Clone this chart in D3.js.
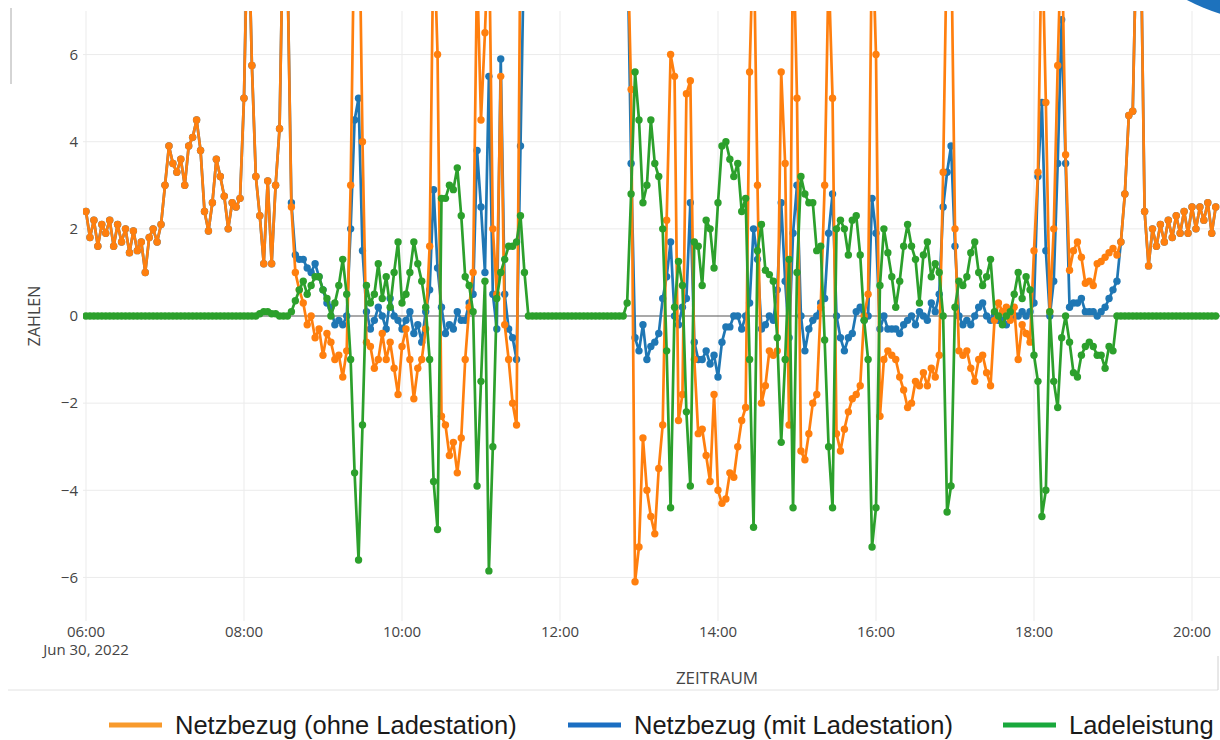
<!DOCTYPE html>
<html lang="de">
<head>
  <meta charset="UTF-8">
  <title>Netzbezug</title>
  <style>
    body { margin: 0; background: #fff; }
    svg { display: block; }
  </style>
</head>
<body>
  <svg id="chart"></svg>
<script src="https://cdn.jsdelivr.net/npm/d3@7"></script>
<script>
const width = 1220;
const height = 740;

// Messwerte alle 3 Minuten ab 06:00
const startTime = '2022-06-30 06:00';
const stepMinutes = 3;

const netzbezugOhne = [
  2.4,1.8,2.2,1.6,2.1,1.9,2.2,1.6,2.1,1.7,
  2.0,1.45,1.95,1.5,1.7,1.0,1.8,2.0,1.7,2.1,
  3.0,3.9,3.5,3.3,3.6,3.0,3.9,4.1,4.5,3.8,
  2.4,1.95,2.6,3.6,3.2,2.75,2.0,2.6,2.5,2.7,
  5.0,9.5,5.75,3.2,2.3,1.2,3.1,1.2,3.0,4.3,
  9.5,8.0,2.5,1.0,0.6,0.3,-0.2,0.0,-0.5,-0.3,
  -0.9,-0.4,-0.6,-1.0,-0.9,-1.4,-0.8,3.0,9.5,10.5,
  4.0,-0.6,-0.7,-1.2,-1.0,-0.4,-1.0,-0.6,-1.2,-1.8,
  -0.7,-0.3,-1.0,-1.9,-1.2,-1.0,-0.3,1.6,9.0,6.0,
  -2.3,-2.5,-3.2,-2.9,-3.6,-2.8,-1.0,0.2,1.0,8.0,
  4.5,6.5,9.0,2.0,0.5,5.5,-0.2,-1.0,-2.0,-2.5,
  9,9,9,9,9,9,9,9,9,9,
  9,9,9,9,9,9,9,9,9,9,
  9,9,9,9,9,9,9,9,5.2,-6.1,
  -5.3,-2.8,-4.0,-4.6,-5.0,-3.5,-2.5,2.2,6.0,5.5,
  -2.4,-1.8,5.1,5.4,-1.0,-2.7,-2.6,-3.2,-3.8,-1.8,
  -4.0,-4.3,-4.2,-3.6,-3.7,-3.0,-2.4,-2.1,5.6,9.0,
  3.0,-2.0,-1.6,-0.8,-0.9,-0.8,5.6,3.5,-2.5,9.0,
  5.0,-3.1,-3.3,-2.7,-2.0,-1.8,0.2,3.0,8.0,5.0,
  -2.7,-3.1,-2.6,-2.2,-1.9,-1.8,-1.6,0.0,0.5,9.0,
  6.0,-2.3,-1.0,-0.8,-0.9,-1.0,-1.4,-1.7,-2.1,-2.0,
  -1.5,-1.6,-1.3,-1.6,-1.2,-1.4,-0.9,3.3,9.0,9.0,
  2.0,-0.8,-0.9,-0.8,-1.2,-1.5,-1.0,-0.9,-1.3,-1.6,
  -0.1,0.3,0.1,0.2,-0.1,0.2,-1.0,-0.2,-0.4,-0.6,
  1.5,3.3,9.0,4.9,0.1,2.0,5.75,9.0,3.7,1.05,
  1.5,1.7,1.35,0.75,0.8,0.7,1.2,1.25,1.35,1.45,
  1.55,1.4,1.7,2.8,4.6,4.7,9.0,9.0,2.4,1.15,
  2.0,1.6,2.1,1.7,2.2,1.8,2.3,1.9,2.4,1.9,
  2.5,2.0,2.5,2.2,2.6,1.9,2.5
];

const netzbezugMit = [
  2.4,1.8,2.2,1.6,2.1,1.9,2.2,1.6,2.1,1.7,
  2.0,1.45,1.95,1.5,1.7,1.0,1.8,2.0,1.7,2.1,
  3.0,3.9,3.5,3.3,3.6,3.0,3.9,4.1,4.5,3.8,
  2.4,1.95,2.6,3.6,3.2,2.75,2.0,2.6,2.5,2.7,
  5.0,9.5,5.75,3.2,2.3,1.2,3.1,1.2,3.0,4.3,
  9.5,8.0,2.6,1.4,1.3,1.3,1.1,1.0,1.2,0.9,
  0.6,0.3,0.2,-0.2,-0.1,-0.2,0.0,2.0,4.5,5.0,
  1.5,0.1,-0.3,-0.1,0.2,0.0,-0.3,0.4,0.0,-0.1,
  -0.3,-0.1,0.1,-0.4,-0.2,-0.6,0.1,0.6,2.9,1.1,
  0.2,-0.4,-0.2,-0.3,0.1,-0.1,-0.1,0.3,0.5,3.8,
  2.5,1.0,5.5,0.5,-0.3,5.9,0.5,-0.3,-0.5,-1.0,
  3.9,9,9,9,9,9,9,9,9,9,
  9,9,9,9,9,9,9,9,9,9,
  9,9,9,9,9,9,9,9,3.5,-0.5,
  -0.8,-0.2,-1.0,-0.7,-0.6,-0.4,0.4,0.9,1.7,0.0,
  -0.2,0.2,0.4,2.6,-0.6,-1.0,-1.0,-0.8,-1.1,-0.9,
  -1.4,-0.6,-0.25,-0.25,0.0,0.0,-0.3,0.0,0.3,2.0,
  1.3,-0.3,-0.2,0.0,-0.1,0.6,2.6,0.8,-0.5,1.9,
  3.0,0.0,-0.8,-0.3,-0.1,0.0,0.3,0.4,1.9,2.8,
  0.0,-0.5,-0.8,-0.5,-0.4,0.1,0.2,-0.1,0.0,2.7,
  1.9,-0.3,0.0,-0.3,-0.3,-0.3,-0.4,-0.2,-0.1,0.0,
  -0.2,0.1,0.0,-0.1,0.3,0.1,0.5,2.5,3.3,3.9,
  1.6,0.0,-0.2,-0.1,-0.2,0.0,0.2,0.3,0.0,-0.1,
  0.0,-0.1,-0.1,-0.2,0.0,0.0,0.0,0.1,0.0,0.1,
  0.3,3.2,4.9,1.5,0.0,0.8,3.5,6.8,3.5,0.2,
  0.3,0.3,0.4,0.1,0.1,0.1,0.0,0.1,0.2,0.4,
  0.6,0.8,1.7,2.8,4.6,4.7,9.0,9.0,2.4,1.15,
  2.0,1.6,2.1,1.7,2.2,1.8,2.3,1.9,2.4,1.9,
  2.5,2.0,2.5,2.2,2.6,1.9,2.5
];

const ladeleistung = [
  0,0,0,0,0,0,0,0,0,0,
  0,0,0,0,0,0,0,0,0,0,
  0,0,0,0,0,0,0,0,0,0,
  0,0,0,0,0,0,0,0,0,0,
  0,0,0,0,0.05,0.1,0.1,0.05,0.05,0.0,
  0.0,0.0,0.1,0.35,0.6,0.8,0.5,0.7,0.9,0.9,
  0.6,0.4,0.0,0.3,0.7,1.3,0.5,-1.0,-3.6,-5.6,
  -2.5,0.7,0.3,0.5,1.2,0.4,0.9,0.2,1.0,1.7,
  0.3,0.5,1.0,1.7,1.2,0.8,0.2,-1.0,-3.8,-4.9,
  2.7,2.7,3.0,2.9,3.4,2.3,0.9,0.7,0.1,-3.9,
  -1.5,0.8,-5.85,-3.0,0.4,1.0,1.3,1.6,1.6,1.7,
  2.3,1.0,0,0,0,0,0,0,0,0,
  0,0,0,0,0,0,0,0,0,0,
  0,0,0,0,0,0,0,0.3,2.8,5.6,
  4.5,2.6,3.0,4.5,3.5,3.2,2.0,-0.8,-4.4,0.2,
  1.25,0.7,-2.2,-3.9,1.7,1.6,0.7,2.2,2.0,1.1,
  2.6,3.9,4.0,3.6,3.2,3.5,2.4,2.7,-1.0,-4.85,
  1.5,2.1,1.05,0.95,0.8,-0.5,-2.9,-1.0,1.3,-4.4,
  1.0,3.2,2.8,2.6,2.6,1.5,1.6,-0.55,-3.0,-4.4,
  2.0,2.2,2.0,1.4,2.2,2.3,1.4,-0.1,-1.0,-5.3,
  -4.4,0.7,2.0,1.45,0.9,0.2,0.8,1.6,2.1,1.6,
  1.3,0.3,1.4,1.7,0.9,1.2,1.0,0.0,-4.5,-3.9,
  0.2,0.8,0.7,0.9,1.45,1.7,1.0,0.7,0.9,1.3,
  0.1,0.0,-0.2,0.0,0.1,0.5,1.0,0.4,0.9,0.6,
  -0.9,-1.5,-4.6,-4.0,0.1,-1.5,-2.1,-0.5,0.0,-0.6,
  -1.3,-1.4,-0.9,-0.7,-0.6,-0.7,-0.9,-0.9,-1.2,-0.7,
  -0.8,0,0,0,0,0,0,0,0,0,
  0,0,0,0,0,0,0,0,0,0,
  0,0,0,0,0,0,0
];

const seriesNames = ['Netzbezug (ohne Ladestation)', 'Netzbezug (mit Ladestation)', 'Ladeleistung'];
const seriesColors = ['#ff7f0e', '#1f77b4', '#2ca02c'];
const legendColors = ['#f89a2c', '#1b6ec2', '#19a83c'];
const yTicks = [-6, -4, -2, 0, 2, 4, 6];

const svg = d3.select('#chart')
  .attr('width', width)
  .attr('height', height);

const parseTime = d3.timeParse('%Y-%m-%d %H:%M');
const t0 = parseTime(startTime);
const times = netzbezugOhne.map((v, i) => d3.timeMinute.offset(t0, i * stepMinutes));

// Plotbereich
const plot = { left: 83, right: 1220, top: 11, bottom: 621 };

const x = d3.scaleTime()
  .domain([t0, parseTime('2022-06-30 20:00')])
  .range([86, 1192]);

const y = d3.scaleLinear()
  .domain([-7, 7])
  .range([plot.bottom, plot.top]);

svg.append('defs')
  .append('clipPath')
  .attr('id', 'clip')
  .append('rect')
  .attr('x', plot.left)
  .attr('y', plot.top)
  .attr('width', plot.right - plot.left)
  .attr('height', plot.bottom - plot.top);

// Gitter
const xTicks = x.ticks(d3.timeHour.every(2));
svg.append('g')
  .selectAll('line')
  .data(xTicks)
  .enter()
  .append('line')
  .attr('x1', d => x(d))
  .attr('x2', d => x(d))
  .attr('y1', plot.top)
  .attr('y2', plot.bottom)
  .attr('stroke', '#ebebeb')
  .attr('stroke-width', 1);

svg.append('g')
  .selectAll('line')
  .data(yTicks.filter(d => d !== 0))
  .enter()
  .append('line')
  .attr('x1', plot.left)
  .attr('x2', plot.right)
  .attr('y1', d => y(d))
  .attr('y2', d => y(d))
  .attr('stroke', '#ebebeb')
  .attr('stroke-width', 1);

// Nulllinie
svg.append('line')
  .attr('x1', plot.left)
  .attr('x2', plot.right)
  .attr('y1', y(0))
  .attr('y2', y(0))
  .attr('stroke', '#555')
  .attr('stroke-width', 1.2);

// Achsenbeschriftung
const tickFont = '"Open Sans", "DejaVu Sans", sans-serif';
const fmt = d3.timeFormat('%H:%M');

svg.append('g')
  .selectAll('text')
  .data(yTicks)
  .enter()
  .append('text')
  .attr('x', 78)
  .attr('y', d => y(d))
  .attr('dy', '0.35em')
  .attr('text-anchor', 'end')
  .attr('font-family', tickFont)
  .attr('font-size', 15)
  .attr('fill', '#444')
  .text(d => d < 0 ? '\u2212' + Math.abs(d) : d);

svg.append('g')
  .selectAll('text')
  .data(xTicks)
  .enter()
  .append('text')
  .attr('x', d => x(d))
  .attr('y', 637)
  .attr('text-anchor', 'middle')
  .attr('font-family', tickFont)
  .attr('font-size', 15)
  .attr('fill', '#444')
  .text(d => fmt(d));

svg.append('text')
  .attr('x', x(t0))
  .attr('y', 655)
  .attr('text-anchor', 'middle')
  .attr('font-family', tickFont)
  .attr('font-size', 15)
  .attr('fill', '#444')
  .text('Jun 30, 2022');

svg.append('text')
  .attr('x', 717)
  .attr('y', 684)
  .attr('text-anchor', 'middle')
  .attr('font-family', tickFont)
  .attr('font-size', 17)
  .attr('fill', '#444')
  .text('ZEITRAUM');

svg.append('text')
  .attr('transform', `translate(40, ${y(0)}) rotate(-90)`)
  .attr('text-anchor', 'middle')
  .attr('font-family', tickFont)
  .attr('font-size', 16)
  .attr('fill', '#444')
  .text('ZAHLEN');

// Linien + Marker (blau unten, dann orange, gruen oben)
const series = [
  { name: seriesNames[1], color: seriesColors[1], values: netzbezugMit },
  { name: seriesNames[0], color: seriesColors[0], values: netzbezugOhne },
  { name: seriesNames[2], color: seriesColors[2], values: ladeleistung }
];

const line = d3.line()
  .x(d => x(d.t))
  .y(d => y(d.v));

const traces = svg.append('g')
  .attr('clip-path', 'url(#clip)');

series.forEach(s => {
  const pts = s.values.map((v, i) => ({ t: times[i], v: v }));
  const g = traces.append('g');
  g.append('path')
    .datum(pts)
    .attr('d', line)
    .attr('fill', 'none')
    .attr('stroke', s.color)
    .attr('stroke-width', 2.7)
    .attr('stroke-linejoin', 'round');
  g.selectAll('circle')
    .data(pts)
    .enter()
    .append('circle')
    .attr('cx', d => x(d.t))
    .attr('cy', d => y(d.v))
    .attr('r', 3.7)
    .attr('fill', s.color);
});

// Trennlinie unter der Achse
svg.append('line')
  .attr('x1', 8).attr('x2', 1218)
  .attr('y1', 690).attr('y2', 690)
  .attr('stroke', '#e2e2e2');
svg.append('line')
  .attr('x1', 1218).attr('x2', 1218)
  .attr('y1', 656).attr('y2', 690)
  .attr('stroke', '#d0d0d0');
svg.append('line')
  .attr('x1', 11).attr('x2', 11)
  .attr('y1', 8).attr('y2', 84)
  .attr('stroke', '#aaa');

// blauer Kreis oben rechts (Bildrand)
svg.append('circle')
  .attr('cx', 1280)
  .attr('cy', -177)
  .attr('r', 200)
  .attr('fill', '#1d72bd');

// Legende
const legendItems = [
  { name: seriesNames[0], color: legendColors[0], x: 109 },
  { name: seriesNames[1], color: legendColors[1], x: 568 },
  { name: seriesNames[2], color: legendColors[2], x: 1003 }
];

const legend = svg.append('g')
  .selectAll('g')
  .data(legendItems)
  .enter()
  .append('g')
  .attr('transform', d => `translate(${d.x}, 725)`);

legend.append('line')
  .attr('x1', 0)
  .attr('x2', 53)
  .attr('stroke', d => d.color)
  .attr('stroke-width', 5);

legend.append('text')
  .attr('x', 66)
  .attr('dy', '0.35em')
  .attr('font-family', '"Liberation Sans", Arial, sans-serif')
  .attr('font-size', 25.5)
  .attr('fill', '#1a1a1a')
  .text(d => d.name);
</script>
</body>
</html>
